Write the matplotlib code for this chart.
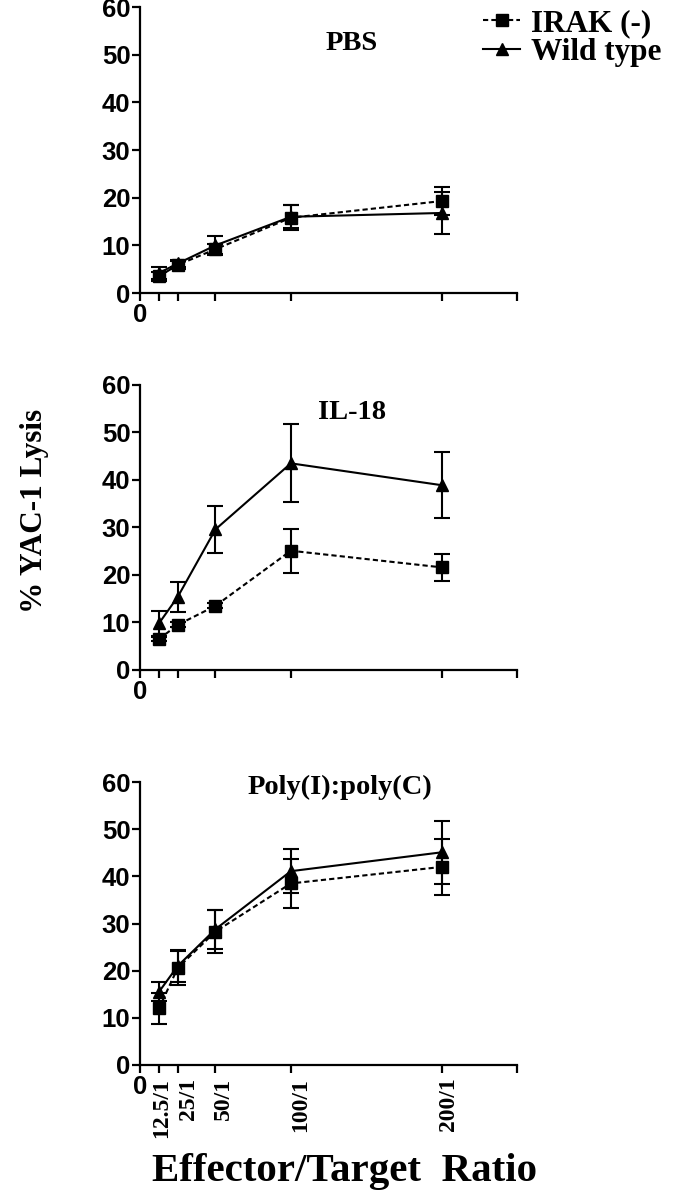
import matplotlib
matplotlib.use("Agg")
import matplotlib.pyplot as plt
from matplotlib.lines import Line2D
from matplotlib.transforms import ScaledTranslation

# E/T ratios
ratio = [12.5, 25, 50, 100, 200]
ratio_labels = ["12.5/1", "25/1", "50/1", "100/1", "200/1"]

panels = ["PBS", "IL-18", "Poly(I):poly(C)"]

# % lysis, IRAK(-) and wild type, with error bars
irak = [
    [3.5, 5.9, 9.2, 15.8, 19.3],
    [6.5, 9.5, 13.5, 25.1, 21.6],
    [12.0, 20.6, 28.3, 38.5, 42.0],
]
irak_err = [
    [1.0, 0.8, 1.0, 2.6, 2.9],
    [0.5, 0.5, 0.5, 4.6, 2.8],
    [3.3, 3.6, 4.6, 5.2, 6.0],
]
wt = [
    [4.2, 6.2, 10.0, 16.0, 16.8],
    [9.8, 15.4, 29.6, 43.5, 38.9],
    [15.5, 21.0, 28.8, 41.1, 45.1],
]
wt_err = [
    [1.2, 0.8, 2.0, 2.4, 4.4],
    [2.7, 3.2, 4.9, 8.2, 7.0],
    [2.0, 3.4, 4.1, 4.6, 6.7],
]

sans = "Liberation Sans"
serif = "Liberation Serif"
dash = (0, (2.5, 1.5))
# small sideways nudge (px) of the rotated ratio labels, as in the original
label_nudge = [3, 11, 8, 10, 7]

fig = plt.figure(figsize=(6.8, 12), dpi=100)
rects = [
    [0.206, 0.7558, 0.5544, 0.2383],
    [0.206, 0.4417, 0.5544, 0.2375],
    [0.206, 0.1125, 0.5544, 0.2358],
]
title_pos = [(0.562, 0.871), (0.562, 0.902), (0.53, 0.982)]

for i, r in enumerate(rects):
    ax = fig.add_axes(r)
    ax.errorbar(ratio, wt[i], yerr=wt_err[i], color="black", lw=1.5,
                marker="^", ms=9, capsize=6, capthick=1.5, elinewidth=1.5,
                zorder=3)
    ax.errorbar(ratio, irak[i], yerr=irak_err[i], color="black", lw=1.5,
                ls=dash, marker="s", ms=8, capsize=6,
                capthick=1.5, elinewidth=1.5, zorder=3)
    ax.set_xlim(0, 250)
    ax.set_ylim(0, 60)
    ax.set_yticks(range(0, 61, 10))
    ax.set_xticks([0] + ratio + [250])
    for s in ["top", "right"]:
        ax.spines[s].set_visible(False)
    for s in ["left", "bottom"]:
        ax.spines[s].set_linewidth(1.6)
    ax.tick_params(direction="out", length=6, width=1.6)
    ax.tick_params(axis="x", pad=1)
    ax.tick_params(axis="y", pad=1)
    for lbl in ax.get_yticklabels():
        lbl.set_fontfamily(sans)
        lbl.set_fontweight("bold")
        lbl.set_fontsize(18.5)
    if i < 2:
        ax.set_xticklabels(["0", "", "", "", "", "", ""])
    else:
        ax.set_xticklabels(["0"] + ratio_labels + [""])
    xl = ax.get_xticklabels()
    xl[0].set_fontfamily(sans)
    xl[0].set_fontweight("bold")
    xl[0].set_fontsize(18.5)
    if i == 2:
        for lbl, dx in zip(xl[1:6], label_nudge):
            lbl.set_fontfamily(serif)
            lbl.set_fontweight("bold")
            lbl.set_fontsize(17)
            lbl.set_rotation(90)
            lbl.set_transform(lbl.get_transform()
                              + ScaledTranslation(dx / 100, -3 / 100,
                                                  fig.dpi_scale_trans))
    ax.text(title_pos[i][0], title_pos[i][1], panels[i], transform=ax.transAxes,
            ha="center", va="center", fontfamily=serif, fontweight="bold",
            fontsize=20.5)

handles = [
    Line2D([], [], color="black", lw=1.5, ls=dash, marker="s", ms=8),
    Line2D([], [], color="black", lw=1.5, marker="^", ms=9),
]
fig.legend(handles, ["IRAK (-)", "Wild type"], loc="upper left",
           bbox_to_anchor=(0.71, 0.9925), frameon=False,
           prop={"family": serif, "weight": "bold", "size": 22.5},
           handlelength=1.2, handletextpad=0.35, labelspacing=0.0,
           borderpad=0, borderaxespad=0, numpoints=1)

fig.text(0.051, 0.574, "% YAC-1 Lysis", rotation=90, ha="center", va="center",
         fontfamily=serif, fontweight="bold", fontsize=22.5)
fig.text(0.507, 0.024, "Effector/Target  Ratio", ha="center", va="center",
         fontfamily=serif, fontweight="bold", fontsize=29.5)

fig.savefig("out.png", dpi=100)
